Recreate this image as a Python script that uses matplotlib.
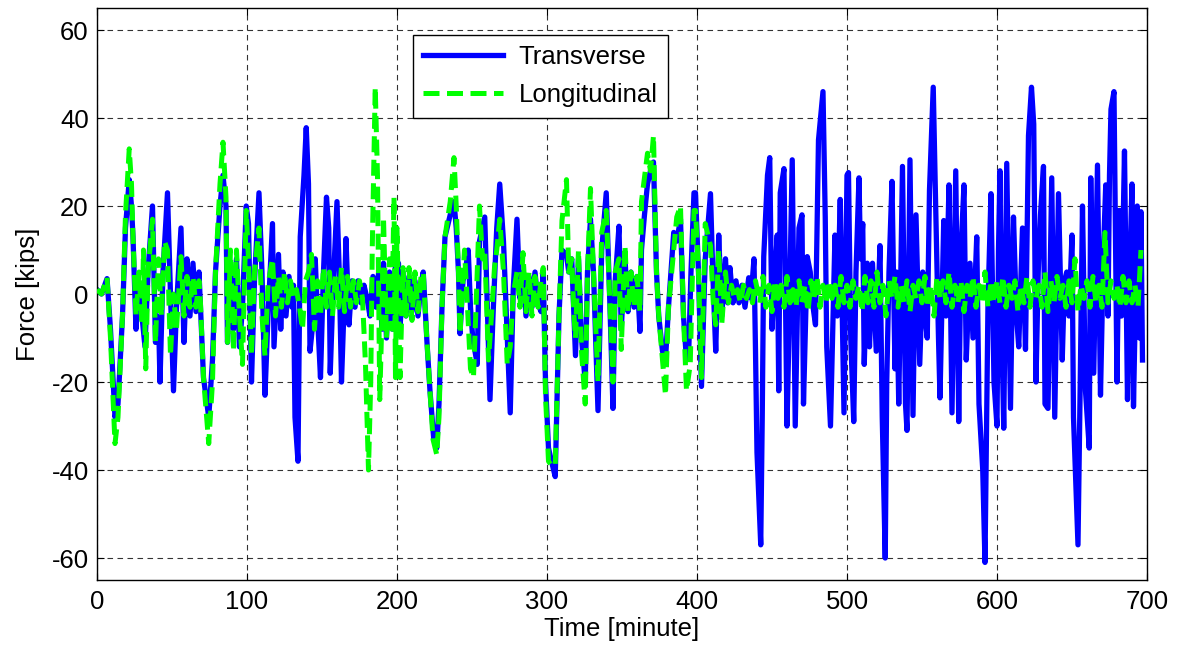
import matplotlib.pyplot as plt
import numpy as np

# transverse force (kips) read at its turning points, (minute, value)
transverse = [
    (0, 1), (3, 0), (6.7, 3.5), (9, -8), (12, -28), (14, -25), (17, -5), (19, 15), (21.5, 26), (23, 20),
    (24, 13), (26, -8), (28, 2), (30, -5), (32, -12), (34, 5), (37, 20), (39, -11), (41, -5), (42, -20),
    (44, 5), (47, 23), (49, 0), (51, -22), (53, -3), (56, 15), (58, -11), (60, 8), (62, -5), (64, 7),
    (66, -4), (68, 5), (69, -3), (71, -19), (74.5, -28), (77, -15), (79, 5), (82, 20), (84, 27), (86, 20),
    (87, -11), (89, 5), (91, -8), (93, 8), (95, -12), (97, -3), (99.5, 20),
    (101, 16), (103, -20), (105, 3), (108, 23), (110, 5), (112, -23), (114, -5), (117, 16), (118, -12), (121, 9),
    (122.5, -8), (124, 5), (126, -5), (128, 4), (130, -3), (131, 2), (132, -28), (134, -38), (135.5, 13), (138, 27),
    (139.5, 37.8), (141, 25), (142, -13), (143.5, -8), (145.5, 8), (147, -5), (149, -19), (151, 5), (153, 22), (154.5, 15),
    (155.5, -18), (157.5, 2), (160, 21), (161.5, 5), (163, -20), (165, 0), (166, 12.6), (168, -7), (170, 3), (172, -3),
    (174, 3), (176, -2), (178, 2), (180, -1), (182, -5), (184, 4), (186, -3), (188, 6), (190, -8), (191, 7),
    (193, -10), (195, 5), (197, -8), (199, 7),
    (201, 7), (202, -8), (204, 5), (206, -5), (208, 4), (210, -4), (212, 3), (214, -5), (216, 2), (217.5, 5),
    (220, -11), (222, -22), (224.5, -33), (226.5, -35), (228, -25), (230, -3), (232, 13), (235.5, 18), (238, 21), (239.5, 15),
    (241, 5), (242, -9), (244, 3), (245.5, 5), (247.5, 10), (249, -3), (250.5, -10), (253.5, -16), (255, 12), (258.5, 17.5),
    (260, 0), (262, -24), (264, -5), (266.5, 15), (268.5, 25), (271, 12), (273.5, -10), (275.5, -27), (277.5, 1), (280, 17),
    (282, -1), (284, 5), (286, -5), (288, 4), (290, -3), (292, 5), (294, -2), (296, -4), (297.5, 5), (299, -20),
    (301, -35), (303, -38), (305.5, -41.5), (308, -5), (310, 10), (313, 9), (314.5, 5), (316.5, 8), (318, -5), (319, -14),
    (321, 8), (323, -10), (325.5, -20), (327, 5), (329, 17), (331, 5), (334, -26.5), (336.5, 10), (339.5, 23), (342, -3),
    (344, -26), (345.5, 3), (348, 15.4), (349.5, -8), (352, 8), (354, -4), (356, 5), (358, -3), (360, 4), (362, -8.5),
    (363, 10), (365, 18), (367, 25), (369, 28), (371, 30), (373, 5), (374.5, -5), (377, -13), (379, -15), (381, -3),
    (384.5, 14), (386.5, 12), (389, 17), (391, -5), (393, -15), (394.5, -13), (396, 5), (398, 23),
    (399, 23), (401, 5), (403, -21), (405.5, 8), (409, 22.8), (410.5, 5), (412.5, -13), (414.5, 13.4), (416.5, -5), (419, 8),
    (420.5, -2), (422, 6), (424, -2), (426, 3), (428, -2), (430, 2), (432, -3), (434.5, 3.7), (436, -1), (438, 8),
    (439, -12.6), (440, -36), (442.5, -57), (443.5, -28), (444.5, 8.5), (447, 27), (448.5, 31), (450, -8), (452, 5), (453.5, 13.4),
    (454.5, -22), (455.5, 23), (458, 28.5), (460, -30), (461, -14), (463.5, 30.5), (465.5, -30), (468, 15), (470, 18), (471, -25),
    (473.5, 8.5), (475.5, 5), (477, -2), (479, -7), (481, 35), (484, 46), (485.5, 17.5), (486.5, -12), (489, -30), (492, 13.4),
    (493.5, -5), (495.5, 21.5), (498, -27), (500, 27),
    (501, 27.6), (502.5, -10), (504.5, -29), (506, 5), (508, 26.4), (509, 8), (510.5, 16), (511.5, -16), (513.5, 7), (515, -12),
    (517, 7), (519.5, -13), (522, 11), (523.5, -28), (525.5, -60), (526.5, -20), (528, 5), (530, 25.6), (532, -17), (533, 5),
    (534.5, -25), (537, 29), (539, -25), (540, -31), (542, 30.5), (544, -27.6), (546, 18), (548.5, -16), (550.5, 5), (552, -5),
    (553.5, -10), (555, 23.6), (557.5, 47), (559, 22), (561, -10), (562, -23.6), (564.5, 16.7), (566, -5), (568, 24.8), (570, -27),
    (572.5, 28), (574.5, -29), (576, 10), (578, 24.8), (579.5, -15), (582, 7), (584, -10), (586.5, 13), (588, -25), (590.5, -40),
    (592, -61), (594, -2), (596, 22.8), (598, -20),
    (600, -30), (601, 10), (602, 28), (603, -5), (604.5, -30.5), (606.5, 29.7), (609, -26), (611, 17.5), (613, -5), (614.5, -12),
    (617, 15), (619, -12.6), (621, 36), (623, 47), (624.5, 38.6), (626, -20), (627.5, 5), (629, 18), (631, 29), (632, -25),
    (634, -26), (636.5, 26.4), (638.5, -28), (641, 22.8), (643.5, -15), (645, 3), (646.5, 5), (648, -5), (650, 13.4), (651, -28),
    (654, -57), (655.5, -20), (657, 20), (659, -22), (661.5, -35), (662.5, 26.4), (664.5, -18), (667, 29.3), (669, -23), (671, 10),
    (672.5, 24.8), (674, -5), (675, 27), (676, 42), (678, 46), (680, -20), (681.5, 19), (683, -5), (685, 32.5), (687, -24),
    (688.5, 5), (690, 25), (691, -25.6), (693.5, 20), (695, -10), (696, 18.7), (697, -15),
]

# longitudinal force (kips), turning points up to 440 min
longitudinal = [
    (0, 1), (3, 0), (6.7, 3.7), (9, -10), (12, -34), (14, -28), (17, -5), (19, 18), (21.5, 33), (23, 25),
    (24, 13), (26, -5), (28, 5), (30, -7), (31, 10), (32.5, -17), (34, 5), (37, 17), (39, -11), (41, 8),
    (43, -5), (45, 12), (47, 10), (49, -14), (51, 0), (53, -8), (56, 8.5), (58, -5), (60, 4), (62, -3),
    (64, 4), (66, -3), (68, 3), (69, -2), (71, -19), (74.5, -34), (77, -20), (79, 5), (82, 25), (84, 34.5),
    (86, 22), (87, -11), (89, 10), (91, -13), (93, 10), (95, -5), (97, -16), (99.5, 19),
    (101, 8), (103, -14), (105, 5), (108, 15), (110, -5), (112, -14), (114, 2), (117, 8), (119, -5), (121, 4),
    (123, -3), (125, 5), (127, -2), (129, 3), (131, -1), (133, 1), (135, -3), (137, -8), (139, 3), (141, 5),
    (143, 9), (145, -8), (147, 3), (149, -5), (151, 6), (153, -3), (155, 5), (157, -5), (159, 4), (161, -3),
    (163, 6), (165, -4), (167, 4), (169, -3), (171, 3), (173, -2), (175, 3), (177, -1), (179, -16), (181, -40),
    (182.5, -20), (183.5, 10), (185.5, 47), (187, 27), (188.5, -24), (190, -5), (191, 17.5), (193, -10), (195, 8), (196.5, -8),
    (198, 22), (199, -19),
    (200, 15), (202, -19), (204, 6), (206, -5), (208, 6), (210, -6), (212, 5), (214, -4), (216, 4), (217.5, 5),
    (220, -11), (222, -22), (224, -33), (226.5, -36.5), (228, -28), (230, -3), (232, 13), (235.5, 21), (238, 31), (239.5, 20),
    (241, 5), (242, -9), (245, 10), (247, -3), (249, -17), (251, -19), (253, 0), (255, 20), (257, 8), (258.5, 10),
    (261, -15), (263, -5), (265, 6), (266.5, 10), (268.5, 17), (271, 5), (273.5, -16), (275.5, -12), (277.5, 0), (280, 5),
    (282, -3), (284, 9.4), (286, -4), (288, 5), (290, -5), (292, 4), (294, -3), (296, 3), (297.5, 6), (299, -23),
    (301, -38), (303, -39), (305.5, -39), (308, -5), (310, 16.7), (313, 26), (314.5, 5), (316.5, 8), (318, -5), (319, -10),
    (321, 10), (323, -13), (325.5, -25), (327, 5), (329, 24), (331, 5), (334, -20), (336.5, 14), (339.5, 19), (342, -3),
    (344, -20), (345.5, 5), (348, 8), (349.5, -12.6), (352, 11), (354, -4), (356, 5), (358, -3), (360, 4), (362, -4),
    (363, 21), (367, 32), (369, 28), (371, 36), (373, 5), (374.5, -5), (377, -15), (379, -23), (381, -3), (384.5, 10),
    (386.5, 17.5), (389, 20), (391, -5), (393, -22), (395.5, -16), (398, 19),
    (399, 19), (401, 5), (403, -19), (405.5, 16), (409, 11), (411, -3), (412.5, -7), (414.5, 10), (416.5, -7), (419, 5),
    (421, -2), (423, 2), (425, -1), (427, 1), (429, -2), (431, 2), (433, -1), (435, 1), (437, -2), (439, 3),
]

# longitudinal force after 440 min, one reading every 2 minutes
tail_start, tail_step = 440, 2
longitudinal_tail = [
    -2, 4, -3, 2, -4, 3, -1, 2, -3, 4, -2, 1, -3, 3, -2, 2, -4, 3, -1, 4,
    -3, 2, -2, 3, -1, 2, -3, 4, -2, 2, -3, 3, -1, 2, -4, 4, -2, 3, -3, 5,
    -2, 2, -5, 3, -1, 4, -3, 2, -2, 3, -4, 2, -1, 3, -2, 4, -3, 2, -5, 4,
    -1, 3, -2, 5, -3, 2, -2, 3, -4, 2, -1, 4, -3, 2, -2, 5, -3, 3, -2, 3,
    -2, 4, -3, 2, -1, 3, -4, 2, -2, 4, -3, 3, -1, 2, -3, 5, -4, 3, -2, 4,
    -1, 2, -3, 3, -2, 8, -4, 2, -1, 3, -3, 4, -2, 2, -3, 14, -2, 3, -1, 2,
    -3, 4, -2, 3, -2, 2, -3, 10,
]

t_tr, f_tr = np.array(transverse).T
t_lo, f_lo = np.array(longitudinal).T
t_tail = tail_start + tail_step * (np.arange(len(longitudinal_tail)) + 1)
t_lo = np.concatenate([t_lo, t_tail])
f_lo = np.concatenate([f_lo, longitudinal_tail])

plt.rcParams['font.family'] = ['Liberation Sans', 'DejaVu Sans']
plt.rcParams['axes.unicode_minus'] = False

fig = plt.figure(figsize=(11.77, 6.52), dpi=100)
ax = fig.add_axes([0.0824, 0.1104, 0.8921, 0.8773])

ax.plot(t_tr, f_tr, color='#0000ff', linewidth=3.8, label='Transverse', zorder=2)
ax.plot(t_lo, f_lo, color='#00ff00', linewidth=3.6, dashes=(3.2, 1.5), label='Longitudinal', zorder=3)

ax.set_xlim(0, 700)
ax.set_ylim(-65, 65)
ax.set_xticks(np.arange(0, 701, 100))
ax.set_yticks(np.arange(-60, 61, 20))
ax.tick_params(direction='in', top=True, right=True, labelsize=18.5, length=5)
ax.tick_params(axis='x', pad=7)
ax.tick_params(axis='y', pad=6)
ax.set_xlabel('Time [minute]', fontsize=18.5, labelpad=2)
ax.set_ylabel('Force [kips]', fontsize=18.5, labelpad=8)
ax.grid(True, color='k', linestyle=(0, (5, 4)), linewidth=0.8, alpha=0.8)
for s in ax.spines.values():
    s.set_linewidth(1.0)

leg = ax.legend(loc='upper left', bbox_to_anchor=(0.301, 0.953), fontsize=18.5,
                handlelength=3.1, fancybox=False, framealpha=1, edgecolor='k',
                borderpad=0.4, labelspacing=0.55, handletextpad=0.6, borderaxespad=0)
leg.get_frame().set_linewidth(1.0)

plt.savefig('out.png', dpi=100)
